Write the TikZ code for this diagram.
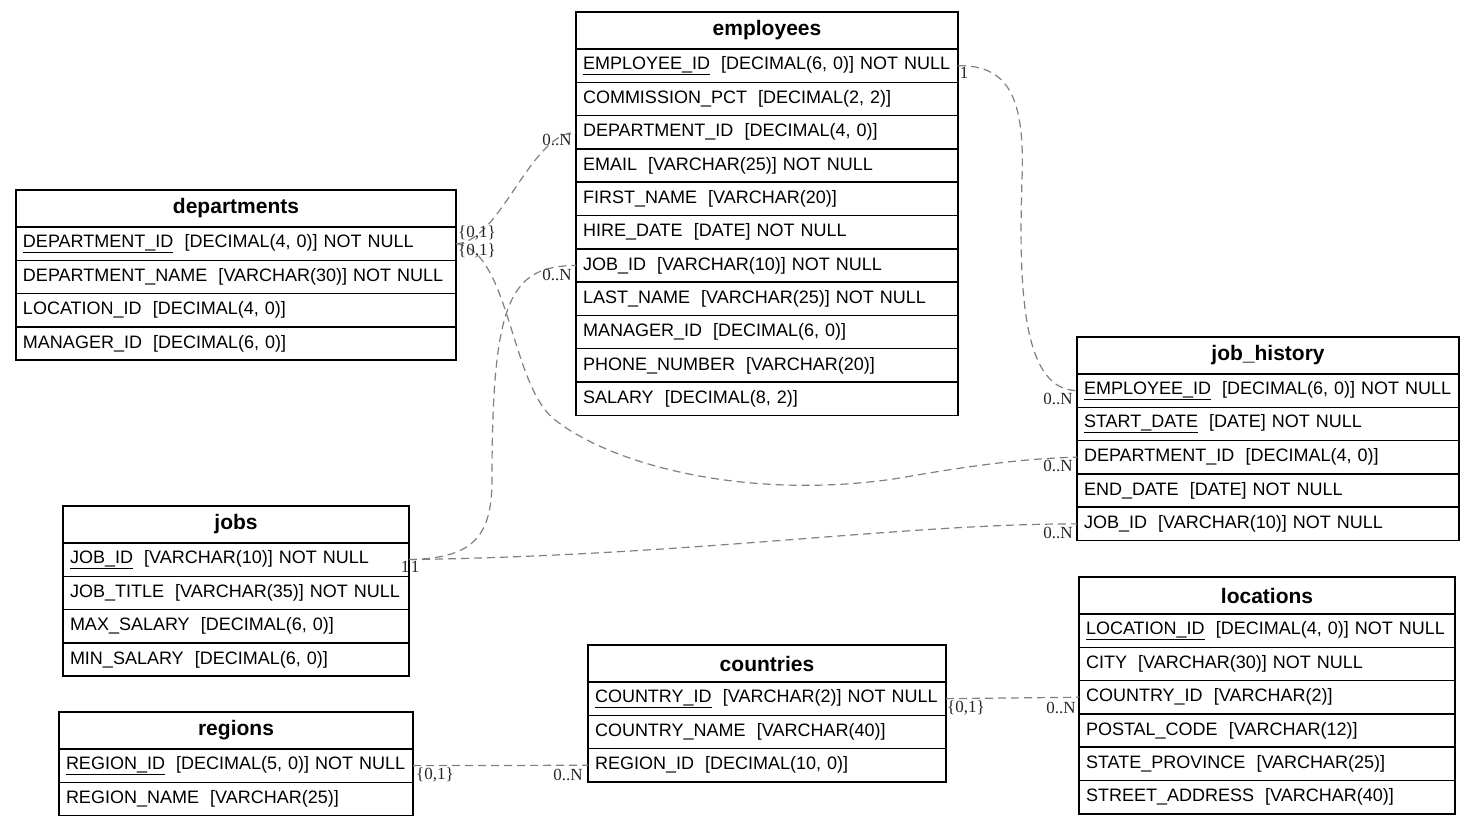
\documentclass[tikz,border=0pt]{standalone}
\usepackage{fontspec}
\setmainfont{Liberation Sans}
\newfontfamily\cardfont{Liberation Serif}
\usetikzlibrary{positioning}

\newcommand{\colgap}{\hspace{0.62em}}

\tikzset{
  tabletitle/.style={draw, line width=1.5pt, outer sep=0pt, anchor=north west,
    minimum height=37pt, inner sep=0pt, font=\bfseries\fontsize{21}{24}\selectfont},
  field/.style={draw, line width=1.5pt, outer sep=0pt, minimum height=33.3pt,
    inner xsep=7pt, inner ysep=0pt, align=left, font=\fontsize{18}{22}\selectfont},
  fk line/.style={draw=black!50, line width=1.2pt, dash pattern=on 8pt off 5pt},
  card/.style={inner sep=0pt, text=black!85, font=\cardfont\fontsize{17}{18}\selectfont},
}

\begin{document}
\begin{tikzpicture}[x=1pt, y=-1pt]
\useasboundingbox (0,0) rectangle (1475,826);

% employees
\node[tabletitle, minimum width=382pt] (emp0) at (576,12) {employees};
\node[field, text width=368pt, below=0pt of emp0] (emp1) {\underline{EMPLOYEE\_ID}\colgap[DECIMAL(6, 0)] NOT NULL};
\node[field, text width=368pt, below=0pt of emp1] (emp2) {COMMISSION\_PCT\colgap[DECIMAL(2, 2)]};
\node[field, text width=368pt, below=0pt of emp2] (emp3) {DEPARTMENT\_ID\colgap[DECIMAL(4, 0)]};
\node[field, text width=368pt, below=0pt of emp3] (emp4) {EMAIL\colgap[VARCHAR(25)] NOT NULL};
\node[field, text width=368pt, below=0pt of emp4] (emp5) {FIRST\_NAME\colgap[VARCHAR(20)]};
\node[field, text width=368pt, below=0pt of emp5] (emp6) {HIRE\_DATE\colgap[DATE] NOT NULL};
\node[field, text width=368pt, below=0pt of emp6] (emp7) {JOB\_ID\colgap[VARCHAR(10)] NOT NULL};
\node[field, text width=368pt, below=0pt of emp7] (emp8) {LAST\_NAME\colgap[VARCHAR(25)] NOT NULL};
\node[field, text width=368pt, below=0pt of emp8] (emp9) {MANAGER\_ID\colgap[DECIMAL(6, 0)]};
\node[field, text width=368pt, below=0pt of emp9] (emp10) {PHONE\_NUMBER\colgap[VARCHAR(20)]};
\node[field, text width=368pt, below=0pt of emp10] (emp11) {SALARY\colgap[DECIMAL(8, 2)]};

% departments
\node[tabletitle, minimum width=440pt] (dep0) at (16,190) {departments};
\node[field, text width=426pt, below=0pt of dep0] (dep1) {\underline{DEPARTMENT\_ID}\colgap[DECIMAL(4, 0)] NOT NULL};
\node[field, text width=426pt, below=0pt of dep1] (dep2) {DEPARTMENT\_NAME\colgap[VARCHAR(30)] NOT NULL};
\node[field, text width=426pt, below=0pt of dep2] (dep3) {LOCATION\_ID\colgap[DECIMAL(4, 0)]};
\node[field, text width=426pt, below=0pt of dep3] (dep4) {MANAGER\_ID\colgap[DECIMAL(6, 0)]};

% job_history
\node[tabletitle, minimum width=382pt] (jh0) at (1077,337) {job\_history};
\node[field, text width=368pt, below=0pt of jh0] (jh1) {\underline{EMPLOYEE\_ID}\colgap[DECIMAL(6, 0)] NOT NULL};
\node[field, text width=368pt, below=0pt of jh1] (jh2) {\underline{START\_DATE}\colgap[DATE] NOT NULL};
\node[field, text width=368pt, below=0pt of jh2] (jh3) {DEPARTMENT\_ID\colgap[DECIMAL(4, 0)]};
\node[field, text width=368pt, below=0pt of jh3] (jh4) {END\_DATE\colgap[DATE] NOT NULL};
\node[field, text width=368pt, below=0pt of jh4] (jh5) {JOB\_ID\colgap[VARCHAR(10)] NOT NULL};

% jobs
\node[tabletitle, minimum width=346pt] (job0) at (63,506) {jobs};
\node[field, text width=332pt, below=0pt of job0] (job1) {\underline{JOB\_ID}\colgap[VARCHAR(10)] NOT NULL};
\node[field, text width=332pt, below=0pt of job1] (job2) {JOB\_TITLE\colgap[VARCHAR(35)] NOT NULL};
\node[field, text width=332pt, below=0pt of job2] (job3) {MAX\_SALARY\colgap[DECIMAL(6, 0)]};
\node[field, text width=332pt, below=0pt of job3] (job4) {MIN\_SALARY\colgap[DECIMAL(6, 0)]};

% regions
\node[tabletitle, minimum width=354pt] (reg0) at (59,712) {regions};
\node[field, text width=340pt, below=0pt of reg0] (reg1) {\underline{REGION\_ID}\colgap[DECIMAL(5, 0)] NOT NULL};
\node[field, text width=340pt, below=0pt of reg1] (reg2) {REGION\_NAME\colgap[VARCHAR(25)]};

% countries
\node[tabletitle, minimum width=358pt] (cty0) at (588,645) {countries};
\node[field, text width=344pt, below=0pt of cty0] (cty1) {\underline{COUNTRY\_ID}\colgap[VARCHAR(2)] NOT NULL};
\node[field, text width=344pt, below=0pt of cty1] (cty2) {COUNTRY\_NAME\colgap[VARCHAR(40)]};
\node[field, text width=344pt, below=0pt of cty2] (cty3) {REGION\_ID\colgap[DECIMAL(10, 0)]};

% locations
\node[tabletitle, minimum width=376pt] (loc0) at (1079,577) {locations};
\node[field, text width=362pt, below=0pt of loc0] (loc1) {\underline{LOCATION\_ID}\colgap[DECIMAL(4, 0)] NOT NULL};
\node[field, text width=362pt, below=0pt of loc1] (loc2) {CITY\colgap[VARCHAR(30)] NOT NULL};
\node[field, text width=362pt, below=0pt of loc2] (loc3) {COUNTRY\_ID\colgap[VARCHAR(2)]};
\node[field, text width=362pt, below=0pt of loc3] (loc4) {POSTAL\_CODE\colgap[VARCHAR(12)]};
\node[field, text width=362pt, below=0pt of loc4] (loc5) {STATE\_PROVINCE\colgap[VARCHAR(25)]};
\node[field, text width=362pt, below=0pt of loc5] (loc6) {STREET\_ADDRESS\colgap[VARCHAR(40)]};

% foreign keys
\draw[fk line] (dep1.east) .. controls (500,243) and (530,133) .. (emp3.west);
\draw[fk line] (dep1.east) .. controls (510,250) and (510,385) .. (555,420)
  .. controls (620,470) and (760,500) .. (900,478)
  .. controls (990,462) and (1040,458) .. (jh3.west);
\draw[fk line] (emp1.east) .. controls (1010,65) and (1025,100) .. (1022,180)
  .. controls (1018,300) and (1025,390) .. (jh1.west);
\draw[fk line] (job1.east) .. controls (470,558) and (492,540) .. (492,480)
  .. controls (492,300) and (510,266) .. (emp7.west);
\draw[fk line] (job1.east) .. controls (700,555) and (900,524) .. (jh5.west);
\draw[fk line] (reg1.east) -- (cty3.west);
\draw[fk line] (cty1.east) -- (loc3.west);

% cardinalities
\node[card] (c1) at (477,233) {\{0,1\}};
\node[card] (c2) at (477,251) {\{0,1\}};
\node[card] (c3) at (557,140) {0..N};
\node[card] (c4) at (557,275) {0..N};
\node[card] (c5) at (964,73) {1};
\node[card] (c6) at (405,567) {1};
\node[card] (c7) at (415,567) {1};
\node[card] (c8) at (1058,399) {0..N};
\node[card] (c9) at (1058,466) {0..N};
\node[card] (c10) at (1058,533) {0..N};
\node[card] (c11) at (435,775) {\{0,1\}};
\node[card] (c12) at (568,775) {0..N};
\node[card] (c13) at (966,708) {\{0,1\}};
\node[card] (c14) at (1061,708) {0..N};
\end{tikzpicture}
\end{document}
